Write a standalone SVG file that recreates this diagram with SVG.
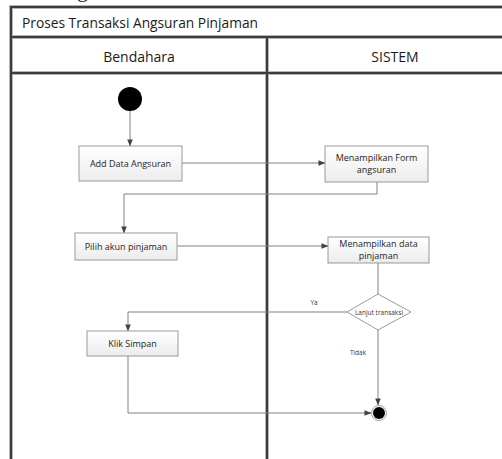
<svg xmlns="http://www.w3.org/2000/svg" width="502" height="459" viewBox="0 0 502 459">
  <defs>
    <linearGradient id="boxFill" x1="0" y1="0" x2="0" y2="1">
      <stop offset="0" stop-color="#ffffff"/>
      <stop offset="1" stop-color="#ececec"/>
    </linearGradient>
    <marker id="arrow" viewBox="0 0 8 8" refX="7.5" refY="4" markerWidth="7" markerHeight="7" markerUnits="userSpaceOnUse" orient="auto">
      <path d="M0,0.8 L8,4 L0,7.2 z" fill="#444"/>
    </marker>
    <style>
      .lane-halo { stroke: #b5b5b5; stroke-width: 4; fill: none; }
      .lane { stroke: #3c3c3c; stroke-width: 2; fill: none; }
      .head { font-family: "Open Sans", "Liberation Sans", sans-serif; font-size: 14px; fill: #1a1a1a; }
      .box { fill: url(#boxFill); stroke: #9a9a9a; stroke-width: 1; }
      .label { font-family: "Open Sans", "Liberation Sans", sans-serif; font-size: 9px; fill: #1e1e1e; text-anchor: middle; }
      .small { font-family: "Open Sans", "Liberation Sans", sans-serif; font-size: 6.5px; fill: #333; text-anchor: middle; }
      .flow { stroke: #808080; stroke-width: 1; fill: none; }
    </style>
  </defs>

  <rect width="502" height="459" fill="#ffffff"/>

  <!-- caption descender cut by the top edge -->
  <text x="77" y="-3" font-family="Liberation Serif, serif" font-size="22" fill="#222">g</text>

  <!-- swimlane frame -->
  <g id="frame">
    <path class="lane-halo" d="M11,459 V7 H502 M11,37 H502 M11,73 H502 M267,37 V459"/>
    <path class="lane" d="M11,459 V7 H502 M11,37 H502 M11,73 H502 M267,37 V459"/>
    <text class="head" x="22" y="27.5" textLength="236" lengthAdjust="spacingAndGlyphs">Proses Transaksi Angsuran Pinjaman</text>
    <text class="head" x="139" y="61.5" text-anchor="middle">Bendahara</text>
    <text class="head" x="395" y="61.5" text-anchor="middle">SISTEM</text>
  </g>

  <!-- connectors -->
  <g id="connectors">
    <path class="flow" d="M130,111 V146" marker-end="url(#arrow)"/>
    <path class="flow" d="M182,163 H325" marker-end="url(#arrow)"/>
    <path class="flow" d="M377,182 V194 H124 V233" marker-end="url(#arrow)"/>
    <path class="flow" d="M177,246 H328" marker-end="url(#arrow)"/>
    <path class="flow" d="M378,263 V294"/>
    <path class="flow" d="M347,312 H128 V331" marker-end="url(#arrow)"/>
    <path class="flow" d="M378,330 V405" marker-end="url(#arrow)"/>
    <path class="flow" d="M128,356 V413 H371" marker-end="url(#arrow)"/>
    <text class="small" x="314" y="305">Ya</text>
    <text class="small" x="358" y="355">Tidak</text>
  </g>

  <g id="start">
    <circle cx="130" cy="99" r="12" fill="#000"/>
  </g>

  <g id="add-data">
    <rect class="box" x="79" y="146" width="103" height="35"/>
    <text class="label" x="130.5" y="166.5">Add Data Angsuran</text>
  </g>

  <g id="form-angsuran">
    <rect class="box" x="325" y="146" width="103" height="36"/>
    <text class="label" x="376.5" y="160.5">Menampilkan Form</text>
    <text class="label" x="376.5" y="173">angsuran</text>
  </g>

  <g id="pilih-akun">
    <rect class="box" x="75" y="233" width="102" height="27"/>
    <text class="label" x="126" y="249.5">Pilih akun pinjaman</text>
  </g>

  <g id="data-pinjaman">
    <rect class="box" x="328" y="237" width="101" height="26"/>
    <text class="label" x="378.5" y="247">Menampilkan data</text>
    <text class="label" x="378.5" y="259">pinjaman</text>
  </g>

  <g id="lanjut">
    <polygon points="378,294 411,312 378,330 347,312" fill="#ffffff" stroke="#9a9a9a" stroke-width="1"/>
    <text class="small" x="379" y="314.5">Lanjut transaksi</text>
  </g>

  <g id="klik-simpan">
    <rect class="box" x="87" y="331" width="91" height="25"/>
    <text class="label" x="132.5" y="346.5">Klik Simpan</text>
  </g>

  <g id="end">
    <circle cx="379" cy="413" r="7.5" fill="#fff" stroke="#a0a0a0" stroke-width="1"/>
    <circle cx="379" cy="413" r="6" fill="#000"/>
  </g>
</svg>
